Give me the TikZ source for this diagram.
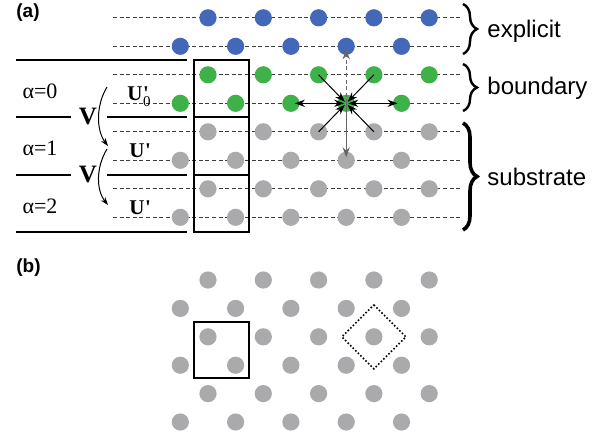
\documentclass[tikz,border=0pt]{standalone}
\usepackage{fontspec}
\setmainfont{Liberation Serif}
\setsansfont{Liberation Sans}
\usetikzlibrary{arrows.meta,decorations.pathreplacing}

\definecolor{dotblue}{RGB}{68,104,184}
\definecolor{dotgreen}{RGB}{62,178,72}
\definecolor{dotgray}{RGB}{170,170,172}
\definecolor{guide}{RGB}{60,60,60}

% bold U with a prime, optionally with a subscript under the prime
\newcommand\Uprime{\textbf{U\kern0.03em\textquotesingle}}
\newcommand\Uprimesub[1]{\textbf{U\kern0.03em\rlap{\textquotesingle}}\raisebox{-0.32em}{\fontsize{7.5}{8}\selectfont #1}}

\begin{document}
\begin{tikzpicture}[x=0.5pt,y=-0.5pt,
  site/.style={circle,inner sep=0pt,minimum size=8.6pt,draw=none},
  rowline/.style={guide,line width=0.45pt,dash pattern=on 2pt off 1.3pt},
  frame/.style={line width=0.6pt},
  sep/.style={line width=1.1pt},
  ray/.style={line width=0.5pt,-{Stealth[length=5pt,width=3.6pt]}},
  bray/.style={line width=0.5pt,{Stealth[length=5pt,width=3.6pt]}-{Stealth[length=5pt,width=3.6pt]}},
  hop/.style={line width=0.5pt,-{Stealth[length=4pt,width=2.8pt]}},
  brc/.style={decorate,decoration={brace,amplitude=7pt}},
  tag/.style={font=\sffamily\bfseries\fontsize{9.5}{11}\selectfont,inner sep=0pt},
  side/.style={font=\sffamily\fontsize{12}{14}\selectfont,inner sep=0pt,anchor=west},
  alab/.style={font=\fontsize{11}{13}\selectfont,inner sep=0pt},
  vlab/.style={font=\bfseries\fontsize{12.5}{14}\selectfont,inner sep=0pt},
  ulab/.style={font=\fontsize{10.5}{12}\selectfont,inner sep=0pt,anchor=base west}]
\useasboundingbox (0,0) rectangle (608,435);

% ---------- panel (a) ----------
\node[tag,anchor=west] (tag-a) at (16,12.5) {(a)};

% lattice rows with their dashed guide lines
\foreach \k/\c in {1/dotblue,2/dotblue,3/dotgreen,4/dotgreen,5/dotgray,6/dotgray,7/dotgray,8/dotgray} {
  \pgfmathsetmacro\yy{17.8+28.5*(\k-1)}
  \pgfmathsetmacro\xo{isodd(\k) ? 208 : 180.3}
  \coordinate (l\k) at (113,\yy);
  \coordinate (r\k) at (462,\yy);
  \draw[rowline] (l\k) -- (r\k);
  \foreach \j in {0,...,4} {
    \node[site,fill=\c] (a-\k-\j) at ({\xo+55.3*\j},\yy) {};
  }
}

% layer separators on the left
\coordinate (s0l) at (16,60);  \coordinate (s0r) at (187,60);
\coordinate (s1l) at (16,117); \coordinate (s1m) at (71,117);
\coordinate (s1n) at (107,117); \coordinate (s1r) at (187,117);
\coordinate (s2l) at (16,175); \coordinate (s2m) at (71,175);
\coordinate (s2n) at (107,175); \coordinate (s2r) at (187,175);
\coordinate (s3l) at (16,232); \coordinate (s3r) at (187,232);
\draw[frame] (s0l) -- (s0r) (s1l) -- (s1m) (s1n) -- (s1r)
             (s2l) -- (s2m) (s2n) -- (s2r) (s3l) -- (s3r);

% unit cells of the layers
\draw[frame] (194,60) rectangle (249,232);
\draw[sep] (194,117) -- (249,117) (194,175) -- (249,175);

% layer labels
\node[alab] (al0) at (40,91) {α=0};
\node[alab] (al1) at (40,148.5) {α=1};
\node[alab] (al2) at (40,206) {α=2};
\node[vlab] (v1) at (88,116) {V};
\node[vlab] (v2) at (88,174) {V};
\node[ulab] (u0) at (127,100) {\Uprimesub{0}};
\node[ulab] (u1) at (129,157) {\Uprime};
\node[ulab] (u2) at (129,214) {\Uprime};

% coupling arrows between layers
\coordinate (c0) at (107,87);  \coordinate (c1) at (108,146);
\coordinate (c1b) at (107,149); \coordinate (c2) at (108,205);
\draw[hop] (c0) .. controls (96,105) and (96,130) .. (c1);
\draw[hop] (c1b) .. controls (96,167) and (96,190) .. (c2);

% neighbours of the central site
\draw[ray,shorten >=1pt] (a-3-2.center) -- (a-4-3.center);
\draw[ray,shorten >=1pt] (a-3-3.center) -- (a-4-3.center);
\draw[ray,shorten >=1pt] (a-5-2.center) -- (a-4-3.center);
\draw[ray,shorten >=1pt] (a-5-3.center) -- (a-4-3.center);
\draw[bray,shorten >=2pt,shorten <=1pt] (a-4-3.center) -- (a-4-2.center);
\draw[bray,shorten >=2pt,shorten <=1pt] (a-4-3.center) -- (a-4-4.center);
\draw[ray,black!60,dash pattern=on 2pt off 1.3pt,shorten >=1.5pt] (a-4-3.center) -- (a-2-3.center);
\draw[ray,black!60,shorten >=1.5pt] (a-4-3.center) -- (a-6-3.center);

% region braces
\draw[brc,line width=1.2pt] (463,4) -- (463,54);
\draw[brc,line width=1.2pt] (463,64) -- (463,111);
\draw[brc,line width=1.8pt] (463,123) -- (463,230);
\node[side] (t-exp) at (487,31) {explicit};
\node[side] (t-bnd) at (487,88) {boundary};
\node[side] (t-sub) at (487,177) {substrate};

% ---------- panel (b) ----------
\node[tag,anchor=west] (tag-b) at (16,267.5) {(b)};

\foreach \k in {1,...,6} {
  \pgfmathsetmacro\yy{280+28.4*(\k-1)}
  \pgfmathsetmacro\xo{isodd(\k) ? 208 : 180.3}
  \foreach \j in {0,...,4} {
    \node[site,fill=dotgray] (b-\k-\j) at ({\xo+55.3*\j},\yy) {};
  }
}
\draw[frame] (194,322) rectangle (249,378);
\draw[line width=0.8pt,dash pattern=on 0.8pt off 1pt]
  (b-3-3.center) ++(0,-32) -- ++(32,32) -- ++(-32,32) -- ++(-32,-32) -- cycle;
\end{tikzpicture}
\end{document}
